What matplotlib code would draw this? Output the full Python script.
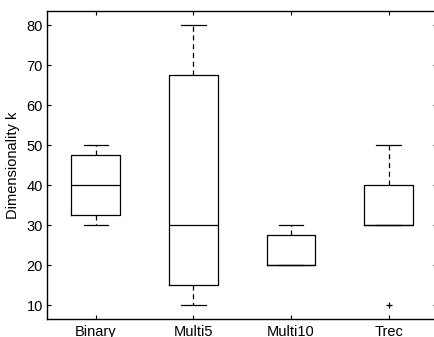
import matplotlib
matplotlib.use("Agg")
import matplotlib.pyplot as plt

plt.rcParams['font.family'] = ['Liberation Sans', 'DejaVu Sans']
plt.rcParams['font.size'] = 10.5

labels = ["Binary", "Multi5", "Multi10", "Trec"]
whis_lo = [30, 10, 20, 30]
q1s = [32.5, 15, 20, 30]
meds = [40, 30, 20, 30]
q3s = [47.5, 67.5, 27.5, 40]
whis_hi = [50, 80, 30, 50]
outliers = [[], [], [], [10]]

stats = []
for i in range(len(labels)):
    stats.append({
        'label': labels[i],
        'whislo': whis_lo[i], 'q1': q1s[i], 'med': meds[i],
        'q3': q3s[i], 'whishi': whis_hi[i], 'fliers': outliers[i],
    })

fig = plt.figure(figsize=(4.35, 3.37), dpi=100)
ax = fig.add_axes([47/435, (337-318.7)/337, (437.5-47)/435, (318.7-11)/337])

ax.bxp(stats, positions=[1, 2, 3, 4], widths=0.5, capwidths=0.25,
       boxprops=dict(color='black', linewidth=0.9),
       whiskerprops=dict(color='black', linestyle=(0, (4, 3)), linewidth=0.9),
       capprops=dict(color='black', linewidth=0.9),
       medianprops=dict(color='black', linewidth=0.9),
       flierprops=dict(marker='+', markeredgecolor='black', markersize=5,
                       markeredgewidth=0.9))

ax.set_xlim(0.5, 4.5)
ax.set_ylim(6.6, 83.5)
ax.set_yticks([10, 20, 30, 40, 50, 60, 70, 80])
ax.set_ylabel("Dimensionality k", labelpad=5, fontsize=10.5)
ax.tick_params(direction='in', top=True, right=True, length=3, width=0.8)
ax.tick_params(axis='x', pad=4.5)
ax.tick_params(axis='y', pad=3)
for s in ax.spines.values():
    s.set_linewidth(1.0)

fig.savefig("out.png", dpi=100)
